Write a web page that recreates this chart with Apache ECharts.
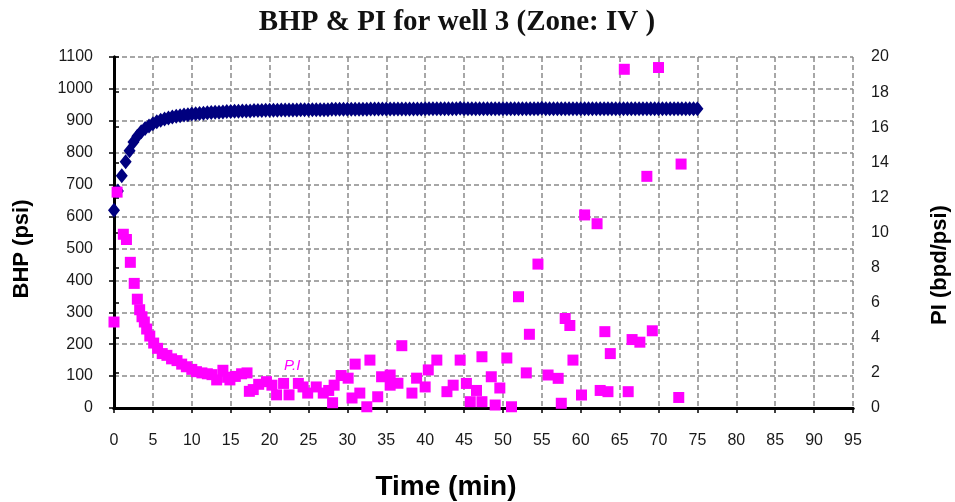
<!DOCTYPE html>
<html>
<head>
<meta charset="utf-8">
<script src="https://cdn.jsdelivr.net/npm/echarts@6/dist/echarts.min.js"></script>
<style>html,body{margin:0;padding:0;background:#fff;}#c{width:955px;height:502px;}</style>
</head>
<body>
<div id="c"></div>
<script>
const titleText = "BHP & PI for well 3 (Zone: IV )";
const xTitle = "Time (min)";
const yLeftTitle = "BHP (psi)";
const yRightTitle = "PI (bpd/psi)";

const bhpTime = [0,0.5,1,1.5,2,2.5,3,3.5,4,4.5,5,5.5,6,6.5,7,7.5,8,8.5,9,9.5,10,10.5,11,11.5,12,12.5,13,13.5,14,14.5,15,15.5,16,16.5,17,17.5,18,18.5,19,19.5,20,20.5,21,21.5,22,22.5,23,23.5,24,24.5,25,25.5,26,26.5,27,27.5,28,28.5,29,29.5,30,30.5,31,31.5,32,32.5,33,33.5,34,34.5,35,35.5,36,36.5,37,37.5,38,38.5,39,39.5,40,40.5,41,41.5,42,42.5,43,43.5,44,44.5,45,45.5,46,46.5,47,47.5,48,48.5,49,49.5,50,50.5,51,51.5,52,52.5,53,53.5,54,54.5,55,55.5,56,56.5,57,57.5,58,58.5,59,59.5,60,60.5,61,61.5,62,62.5,63,63.5,64,64.5,65,65.5,66,66.5,67,67.5,68,68.5,69,69.5,70,70.5,71,71.5,72,72.5,73,73.5,74,74.5,75];
const bhpValue = [
620,680,728,772,806,834,852,866,876,884,891,897,902,906,909,912,914,916,918,919,
921,922,923,924,925,926,927,927,928,929,929,930,930,931,931,931,932,932,932,933,
933,933,933,934,934,934,934,934,935,935,935,935,935,935,935,935,936,936,936,936,
936,936,936,936,936,936,937,937,937,937,937,937,937,937,937,937,937,937,937,937,
938,938,938,938,938,938,938,938,938,939,938,938,938,938,938,938,938,938,938,938,
938,938,938,938,938,938,938,938,938,938,939,938,938,938,938,938,938,938,938,938,
938,938,938,938,938,938,938,938,938,938,938,938,938,938,938,938,938,938,938,938,
938,938,938,938,938,938,938,938,938,938,938];

const piTime = [0.0,0.4,1.2,1.6,2.1,2.6,3.0,3.3,3.6,3.9,4.2,4.6,5.1,5.6,6.2,6.8,7.4,8.1,8.7,9.3,10.0,10.6,11.3,12.0,12.6,13.2,14.0,14.6,14.9,15.6,16.4,17.1,17.4,17.9,18.6,19.6,20.3,20.9,21.8,22.5,23.7,24.3,24.9,26.0,26.9,27.6,28.1,28.3,29.2,30.1,30.6,31.0,31.6,32.5,32.9,33.9,34.4,35.5,35.5,36.5,37.0,38.3,38.9,40.0,40.4,41.5,42.8,43.6,44.5,45.3,45.8,46.6,47.3,47.3,48.5,49.0,49.6,50.5,51.1,52.0,53.0,53.4,54.5,55.8,57.1,57.5,58.0,58.6,59.0,60.1,60.5,62.1,62.5,63.1,63.5,63.8,65.6,66.1,66.6,67.6,68.5,69.2,70.0,72.6,72.9];
const piValue = [4.9,12.3,9.9,9.6,8.3,7.1,6.2,5.6,5.2,4.9,4.5,4.1,3.7,3.4,3.1,3.0,2.8,2.7,2.5,2.35,2.2,2.07,2.0,1.95,1.9,1.6,2.15,1.75,1.6,1.8,1.95,2.0,0.95,1.05,1.35,1.5,1.3,0.75,1.4,0.75,1.4,1.2,0.85,1.2,0.85,1.0,0.3,1.3,1.85,1.7,0.57,2.5,0.85,0.07,2.73,0.64,1.78,1.88,1.3,1.41,3.55,0.85,1.7,1.2,2.17,2.73,0.93,1.3,2.73,1.4,0.36,1.0,2.92,0.36,1.78,0.17,1.14,2.85,0.07,6.34,2.0,4.2,8.2,1.88,1.69,0.27,5.1,4.7,2.73,0.74,11.0,10.5,1.0,4.35,0.93,3.1,19.3,0.93,3.9,3.75,13.2,4.4,19.4,0.6,13.9];

const bhpData = bhpTime.map((t, i) => [t, bhpValue[i]]);
const piData = piTime.map((t, i) => [t, piValue[i]]);

const chart = echarts.init(document.getElementById('c'));
const labelStyle = {color: '#1a1a1a', fontFamily: 'Liberation Sans, Arial, sans-serif', fontSize: 16};
const splitStyle = {show: true, lineStyle: {color: '#8a8a8a', type: [5, 3], width: 1.5}};
const boxLine = {show: true, lineStyle: {color: '#000', width: 3}};
chart.setOption({
  animation: false,
  backgroundColor: '#fff',
  grid: {left: 114, right: 102, top: 57, bottom: 94},
  xAxis: [{
    type: 'value', min: 0, max: 95, interval: 5, position: 'bottom',
    axisLine: boxLine,
    axisTick: {show: true, length: 5, lineStyle: {color: '#000', width: 1.5}},
    axisLabel: Object.assign({margin: 25}, labelStyle),
    splitLine: splitStyle
  }, {
    type: 'value', min: 0, max: 95, interval: 5, position: 'top',
    axisLine: boxLine, axisTick: {show: false}, axisLabel: {show: false}, splitLine: {show: false}
  }],
  yAxis: [{
    type: 'value', min: 0, max: 1100, interval: 100, position: 'left',
    axisLine: boxLine,
    axisTick: {show: true, length: 5, lineStyle: {color: '#000', width: 1.5}},
    axisLabel: Object.assign({margin: 21, formatter: v => String(v)}, labelStyle),
    splitLine: splitStyle
  }, {
    type: 'value', min: 0, max: 20, interval: 2, position: 'right',
    axisLine: boxLine,
    axisTick: {show: true, length: 5, lineStyle: {color: '#000', width: 1.5}},
    axisLabel: Object.assign({margin: 18}, labelStyle),
    splitLine: {show: false}
  }],
  graphic: [
    {type: 'text', x: 457, y: 23, style: {text: titleText, fill: '#111', font: 'bold 29px Liberation Serif, Times New Roman, serif', textAlign: 'center', textVerticalAlign: 'middle'}},
    {type: 'text', z: 0, left: 283, top: 104, style: {text: 'BHP', fill: '#000', font: '14px Liberation Sans, Arial'}},
    {type: 'text', z: 10, left: 284, top: 358, style: {text: 'P.I', fill: '#ff00ff', font: 'italic 15px Liberation Sans, Arial'}},
    {type: 'text', x: 446, y: 487, style: {text: xTitle, fill: '#000', font: 'bold 28px Liberation Sans, Arial', textAlign: 'center', textVerticalAlign: 'middle'}},
    {type: 'text', x: 22, y: 249, rotation: Math.PI / 2, style: {text: yLeftTitle, fill: '#000', font: 'bold 22px Liberation Sans, Arial', textAlign: 'center', textVerticalAlign: 'middle'}},
    {type: 'text', x: 940, y: 265, rotation: Math.PI / 2, style: {text: yRightTitle, fill: '#000', font: 'bold 22px Liberation Sans, Arial', textAlign: 'center', textVerticalAlign: 'middle'}}
  ],
  series: [{
    name: 'BHP', type: 'scatter', yAxisIndex: 0, data: bhpData,
    symbol: 'diamond', symbolSize: [12, 15], itemStyle: {color: '#00007f', opacity: 1}, z: 3
  }, {
    name: 'PI', type: 'scatter', yAxisIndex: 1, data: piData,
    symbol: 'rect', symbolSize: 11, itemStyle: {color: '#ff00ff', opacity: 1}, z: 4
  }]
});
</script>
</body>
</html>
